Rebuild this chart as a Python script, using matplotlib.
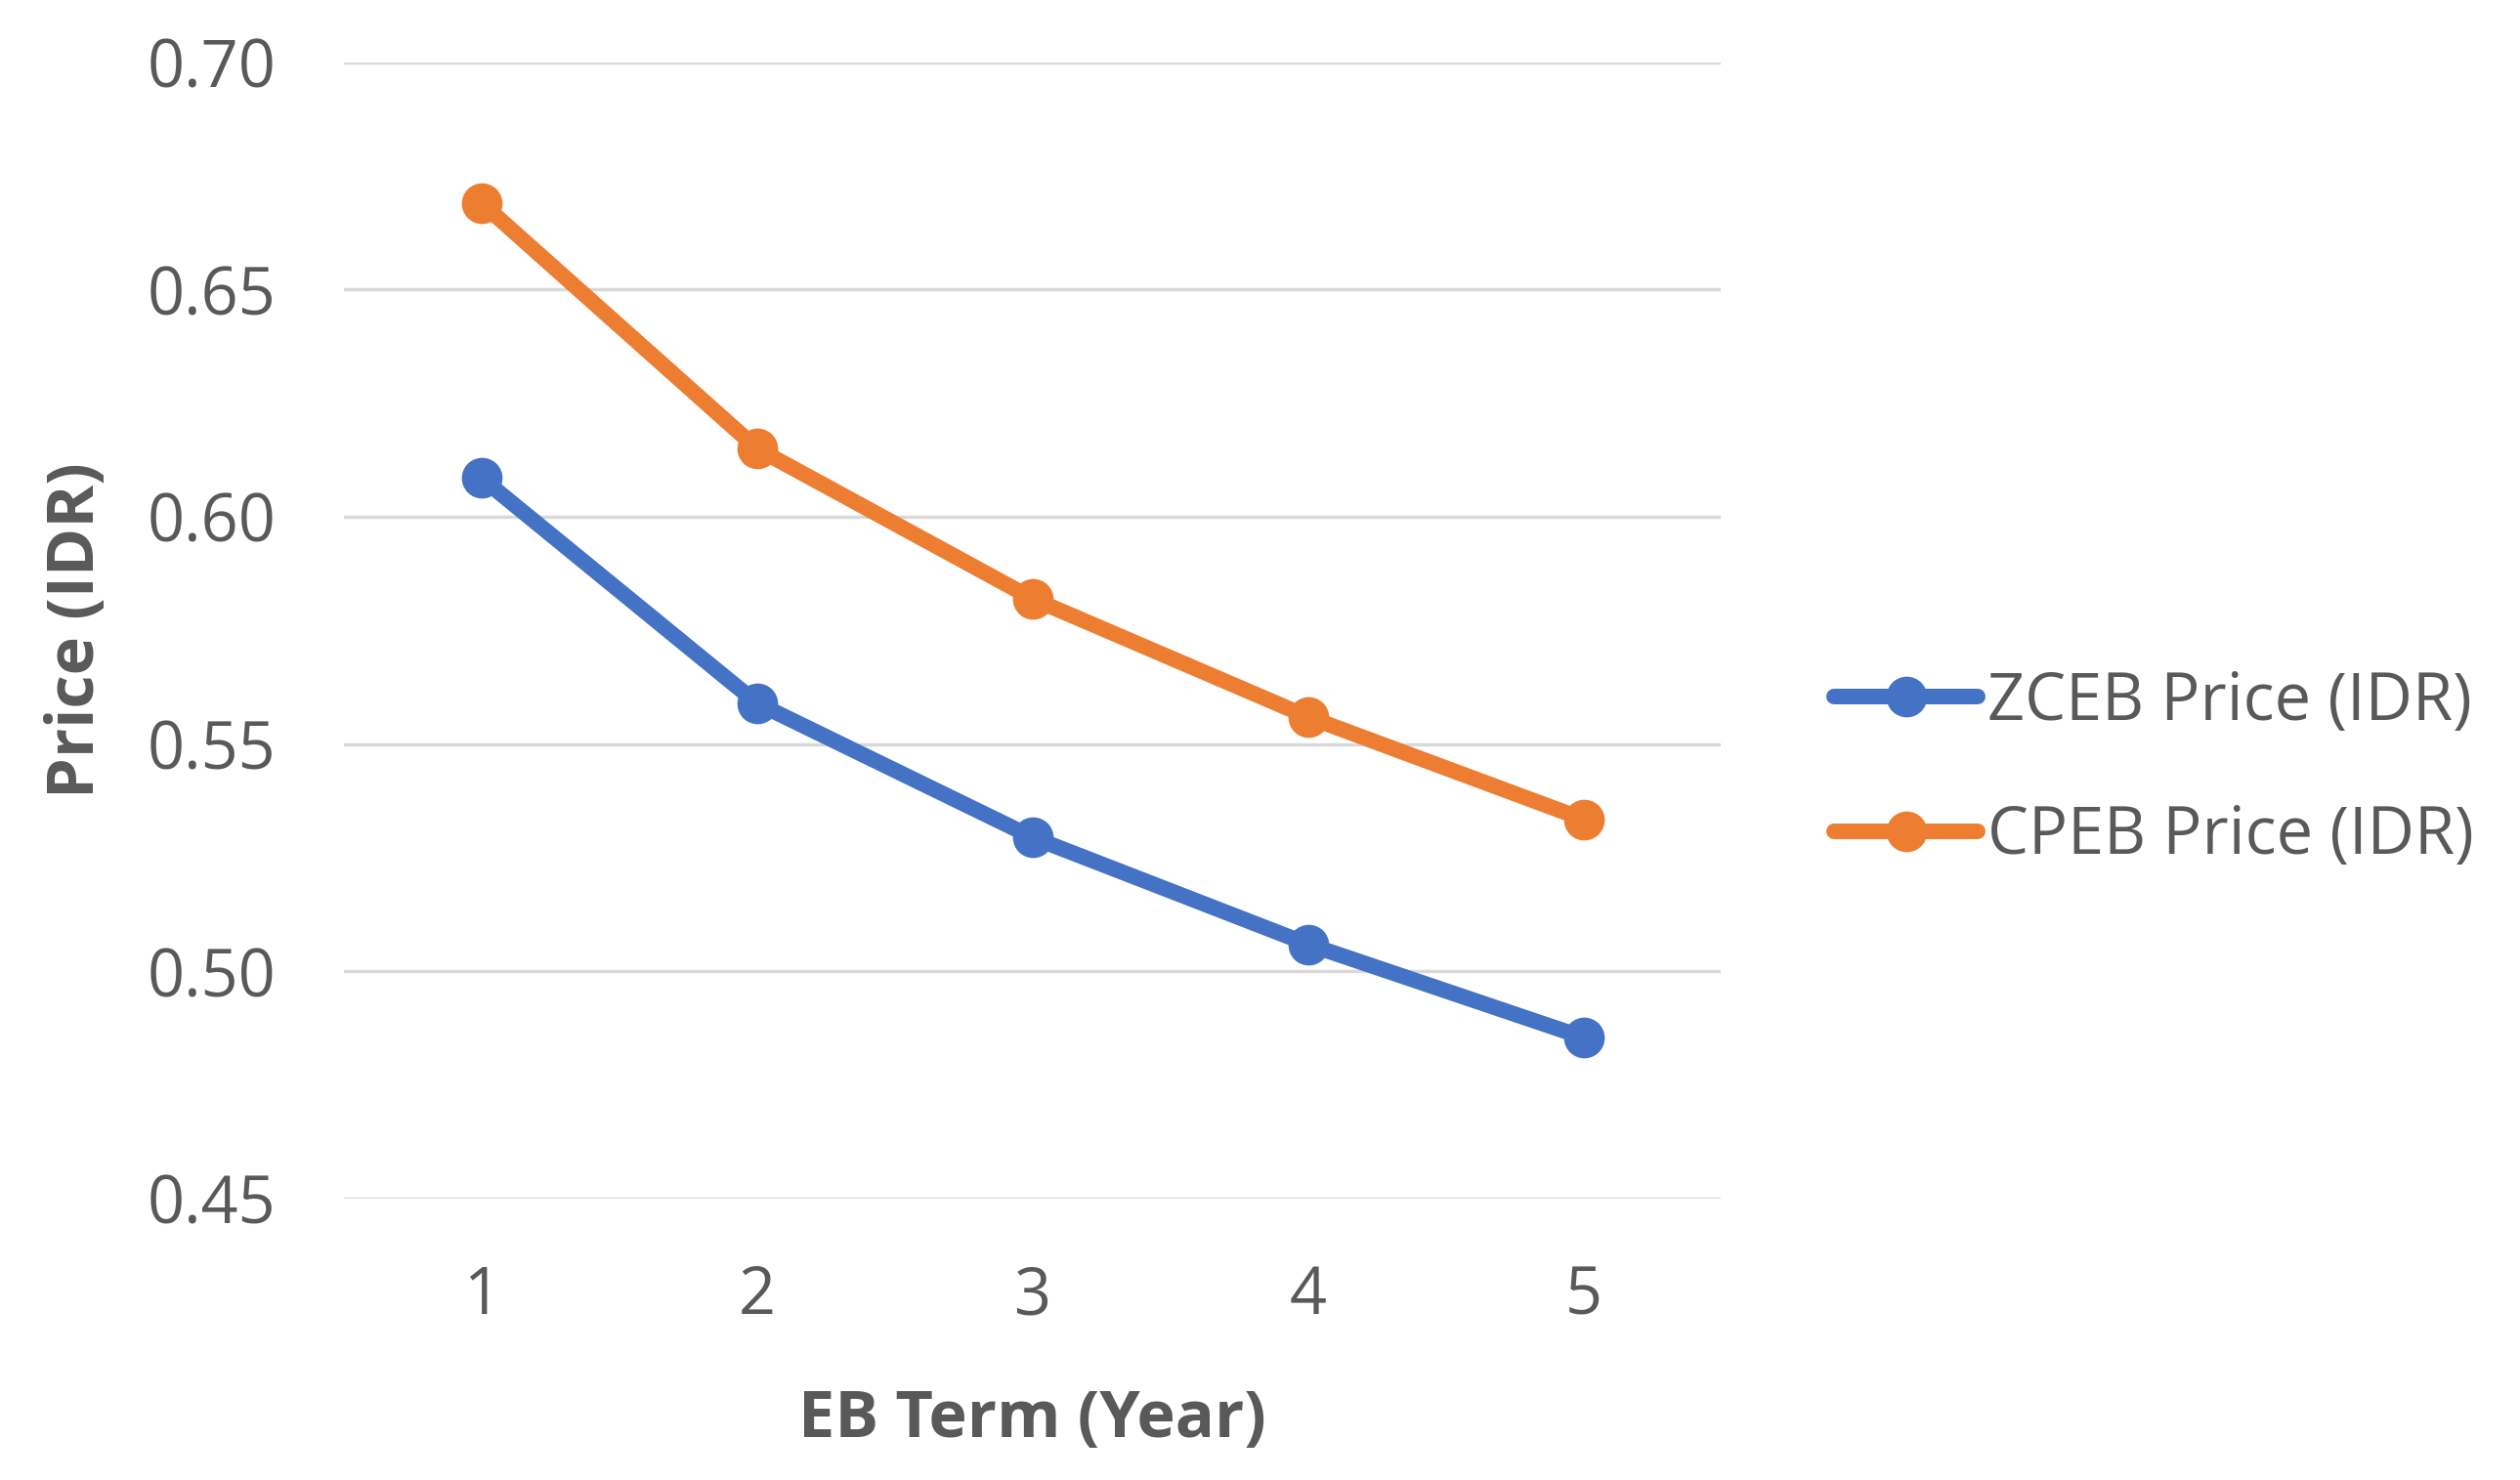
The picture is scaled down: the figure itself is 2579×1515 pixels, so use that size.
import matplotlib
matplotlib.use("Agg")
import matplotlib.pyplot as plt
from matplotlib.ticker import FormatStrFormatter

# EB term (years)
terms = [1, 2, 3, 4, 5]

# Prices (IDR)
zceb_price = [0.6085, 0.559, 0.5295, 0.506, 0.4855]
cpeb_price = [0.669, 0.615, 0.582, 0.556, 0.5335]

y_ticks = [0.45, 0.50, 0.55, 0.60, 0.65, 0.70]

plt.rcParams["font.family"] = ["Open Sans", "DejaVu Sans"]
text_color = "#595959"

fig = plt.figure(figsize=(25.79, 15.15), dpi=100)
ax = fig.add_axes([0.1365, 0.190, 0.5465, 0.768])

ax.plot(terms, zceb_price, color="#4472C4", lw=11.5, marker="o", ms=29,
        solid_capstyle="round", label="ZCEB Price (IDR)", zorder=3)
ax.plot(terms, cpeb_price, color="#ED7D31", lw=11.5, marker="o", ms=29,
        solid_capstyle="round", label="CPEB Price (IDR)", zorder=3)

ax.set_xlim(0.5, 5.5)
ax.set_ylim(0.45, 0.70)
ax.set_xticks(terms)
ax.set_yticks(y_ticks)
ax.yaxis.set_major_formatter(FormatStrFormatter("%.2f"))

ax.grid(axis="y", color="#D9D9D9", lw=2.5)
ax.set_axisbelow(True)
for side in ["top", "right", "left", "bottom"]:
    ax.spines[side].set_visible(False)

ax.tick_params(axis="both", length=0, labelsize=48, labelcolor=text_color)
ax.tick_params(axis="y", pad=50)
ax.tick_params(axis="x", pad=48)

ax.set_xlabel("EB Term (Year)", fontsize=48, fontweight="bold", color=text_color, labelpad=42)
ax.set_ylabel("Price (IDR)", fontsize=48, fontweight="bold", color=text_color, labelpad=28)

fig.legend(loc="center left", bbox_to_anchor=(0.715, 0.480), frameon=False,
           fontsize=48, labelcolor=text_color, handlelength=2.2,
           handletextpad=0.15, labelspacing=1.05, borderpad=0)

fig.savefig("out.png", dpi=100)
